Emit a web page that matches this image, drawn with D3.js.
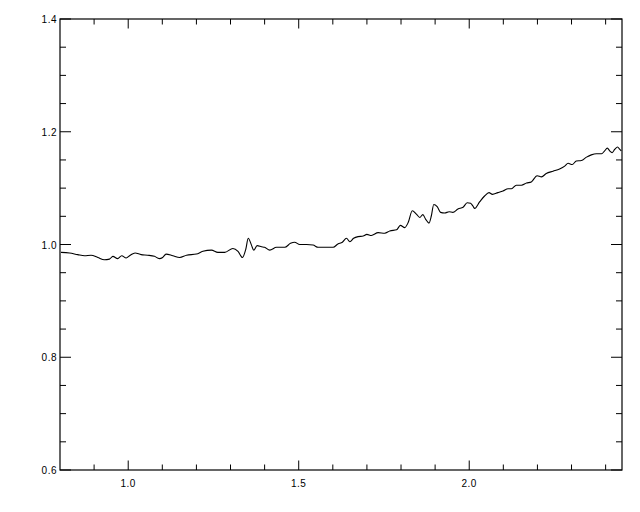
<!DOCTYPE html>
<html>
<head>
<meta charset="utf-8">
<script src="https://cdn.jsdelivr.net/npm/d3@7"></script>
<style>
  html, body { margin: 0; padding: 0; background: #fff; }
  svg { display: block; }
  text { font-family: "Liberation Sans", Arial, sans-serif; font-size: 10px; fill: #000; }
</style>
</head>
<body>
<svg id="chart" width="640" height="512"></svg>
<script>
// ---- data ----
const xValues = [0.803,0.828,0.852,0.872,0.891,0.911,0.930,0.945,0.955,0.969,0.981,0.994,1.006,1.020,1.038,1.057,1.077,1.091,1.101,1.111,
  1.131,1.151,1.171,1.200,1.219,1.244,1.263,1.283,1.307,1.322,1.335,1.345,1.352,1.362,1.368,1.378,1.391,
  1.400,1.415,1.435,1.459,1.476,1.488,1.503,1.523,1.542,1.557,1.601,1.615,1.628,1.640,1.650,1.661,1.674,1.689,1.700,
  1.713,1.733,1.752,1.767,1.787,1.798,1.811,1.821,1.833,1.845,1.855,1.864,1.872,1.882,1.889,1.896,1.906,1.916,1.928,1.941,1.952,1.967,1.982,
  1.994,2.004,2.011,2.016,2.031,2.045,2.058,2.068,2.084,2.099,2.114,2.124,2.138,2.153,2.168,2.182,2.199,2.212,2.226,2.246,
  2.265,2.280,2.290,2.302,2.314,2.329,2.344,2.358,2.373,2.388,2.397,2.405,2.412,2.419,2.427,2.435,2.441,2.446];
const yValues = [0.986,0.985,0.982,0.980,0.981,0.977,0.973,0.974,0.979,0.975,0.980,0.976,0.981,0.985,0.982,0.981,0.979,0.975,0.977,0.983,
  0.980,0.977,0.981,0.983,0.988,0.990,0.986,0.986,0.993,0.988,0.977,0.992,1.011,0.998,0.990,0.998,0.996,
  0.995,0.990,0.995,0.995,1.002,1.004,1.000,1.000,0.999,0.995,0.995,1.001,1.004,1.011,1.005,1.011,1.014,1.015,1.018,
  1.016,1.021,1.020,1.024,1.026,1.034,1.030,1.039,1.060,1.054,1.048,1.053,1.045,1.038,1.051,1.071,1.067,1.057,1.056,1.058,1.057,1.063,1.066,
  1.074,1.073,1.068,1.064,1.076,1.086,1.092,1.089,1.092,1.095,1.099,1.099,1.105,1.105,1.109,1.111,1.122,1.120,1.126,1.130,
  1.134,1.139,1.144,1.142,1.148,1.149,1.155,1.159,1.161,1.161,1.166,1.171,1.166,1.163,1.169,1.173,1.169,1.166];
const xDomain = [0.8, 2.448];
const yDomain = [0.6, 1.4];
const xMajorTicks = [1.0, 1.5, 2.0];
const xTickLabels = ["1.0", "1.5", "2.0"];
const xMinorTicks = [0.9,1.1,1.2,1.3,1.4,1.6,1.7,1.8,1.9,2.1,2.2,2.3,2.4];
const yMajorTicks = [0.6, 0.8, 1.0, 1.2, 1.4];
const yTickLabels = ["0.6", "0.8", "1.0", "1.2", "1.4"];
const yMinorTicks = [0.65,0.7,0.75,0.85,0.9,0.95,1.05,1.1,1.15,1.25,1.3,1.35];

// ---- layout ----
const L = 60, R = 622, T = 19, B = 470;
const svg = d3.select("#chart");
const x = d3.scaleLinear().domain(xDomain).range([L, R]);
const y = d3.scaleLinear().domain(yDomain).range([B, T]);

const g = svg.append("g");

// frame
g.append("rect").attr("x", L).attr("y", T).attr("width", R - L).attr("height", B - T)
  .attr("fill", "none").attr("stroke", "#000").attr("stroke-width", 1.2);

function tickX(vals, len) {
  vals.forEach(v => {
    const px = x(v);
    g.append("line").attr("x1", px).attr("x2", px).attr("y1", B).attr("y2", B - len).attr("stroke", "#000");
    g.append("line").attr("x1", px).attr("x2", px).attr("y1", T).attr("y2", T + len).attr("stroke", "#000");
  });
}
function tickY(vals, len) {
  vals.forEach(v => {
    const py = y(v);
    g.append("line").attr("x1", L).attr("x2", L + len).attr("y1", py).attr("y2", py).attr("stroke", "#000");
    g.append("line").attr("x1", R).attr("x2", R - len).attr("y1", py).attr("y2", py).attr("stroke", "#000");
  });
}
tickX(xMajorTicks, 9.5);
tickX(xMinorTicks, 5.5);
tickY(yMajorTicks, 11);
tickY(yMinorTicks, 6);

// labels
xMajorTicks.forEach((v, i) => {
  g.append("text").attr("x", x(v)).attr("y", 487).attr("text-anchor", "middle")
    .style("letter-spacing", "0.5px").text(xTickLabels[i]);
});
yMajorTicks.forEach((v, i) => {
  g.append("text").attr("x", 57).attr("y", y(v) + 4).attr("text-anchor", "end")
    .style("letter-spacing", "0.5px").text(yTickLabels[i]);
});

// line
const pts = xValues.map((v, i) => [v, yValues[i]]);
const line = d3.line().x(d => x(d[0])).y(d => y(d[1])).curve(d3.curveMonotoneX);
g.append("path").datum(pts).attr("d", line).attr("fill", "none").attr("stroke", "#000").attr("stroke-width", 1.1);
</script>
</body>
</html>
